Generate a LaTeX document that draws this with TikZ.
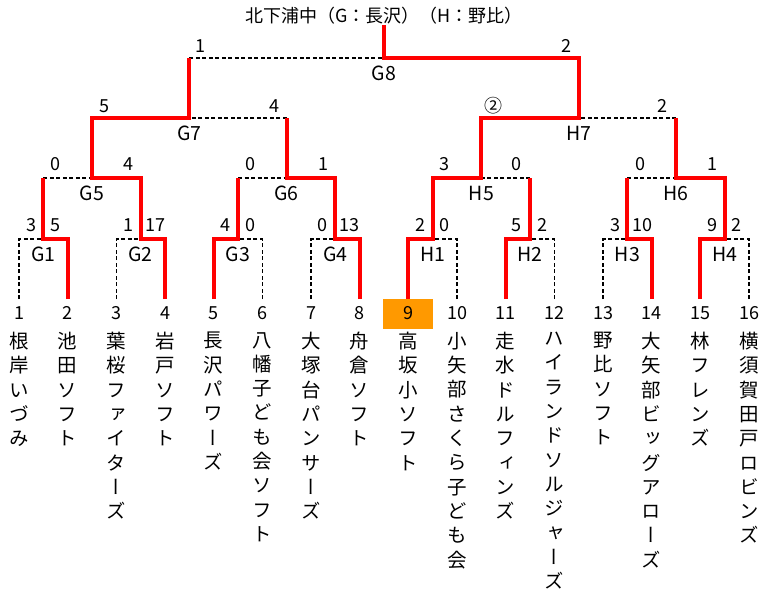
\documentclass[tikz,border=0pt]{standalone}
\usepackage{fontspec}
\setmainfont{Noto Sans CJK JP}
\newfontfamily\tatefont[RawFeature=+vert]{Noto Sans CJK JP}
\definecolor{seedorange}{HTML}{FF9900}
\begin{document}
\begin{tikzpicture}[
  x=48.667pt,y=-1pt,font=\fontsize{18}{20}\selectfont,
  every node/.style={inner sep=0pt},
  match name/.style={font=\fontsize{19.5}{20}\selectfont},
  win/.style={draw=red,line width=4pt},
  lose/.style={draw=black,line width=1.5pt,dash pattern=on 4pt off 2.5pt},
  team/.style={anchor=north,align=center,
    font=\tatefont\fontsize{19.5}{24.3}\selectfont,
    execute at begin node=\strut},
  seedbox/.style={fill=seedorange,minimum width=50pt,minimum height=30pt}
]
  \useasboundingbox (-0.3904,0) rectangle (15.2466,595);

  \node (title) at (7.5,16) {北下浦中（G：長沢）（H：野比）};

  % Teams: number on top, name written downwards.
  \node[seedbox] (box9) at (8,314) {};
  \foreach \i/\name in {
    1/{根\\岸\\い\\づ\\み},
    2/{池\\田\\ソ\\フ\\ト},
    3/{葉\\桜\\フ\\ァ\\イ\\タ\\ー\\ズ},
    4/{岩\\戸\\ソ\\フ\\ト},
    5/{長\\沢\\パ\\ワ\\ー\\ズ},
    6/{八\\幡\\子\\ど\\も\\会\\ソ\\フ\\ト},
    7/{大\\塚\\台\\パ\\ン\\サ\\ー\\ズ},
    8/{舟\\倉\\ソ\\フ\\ト},
    9/{高\\坂\\小\\ソ\\フ\\ト},
    10/{小\\矢\\部\\さ\\く\\ら\\子\\ど\\も\\会},
    11/{走\\水\\ド\\ル\\フ\\ィ\\ン\\ズ},
    12/{ハ\\イ\\ラ\\ン\\ド\\ソ\\ル\\ジ\\ャ\\ー\\ズ},
    13/{野\\比\\ソ\\フ\\ト},
    14/{大\\矢\\部\\ビ\\ッ\\グ\\ア\\ロ\\ー\\ズ},
    15/{林\\フ\\レ\\ン\\ズ},
    16/{横\\須\\賀\\田\\戸\\ロ\\ビ\\ン\\ズ}}
  {
    \coordinate (l\i) at (\i-1,299);
    \node (n\i) at (\i-1,313) {\i};
    \node[team] (t\i) at (\i-1,332) {\name};
  }

  % Match joints and their names.
  \foreach \m/\x/\y/\lab in {
    g1/0.5/239/G1, g2/2.5/239/G2, g3/4.5/239/G3, g4/6.5/239/G4,
    h1/8.5/239/H1, h2/10.5/239/H2, h3/12.5/239/H3, h4/14.5/239/H4,
    g5/1.5/178/G5, g6/5.5/178/G6, h5/9.5/178/H5, h6/13.5/178/H6,
    g7/3.5/118/G7, h7/11.5/118/H7, g8/7.5/58/G8}
  {
    \coordinate (\m) at (\x,\y);
    \node[match name] (\m-name) at (\x,\y+15.5) {\lab};
  }

  % Scores
  \foreach \m/\y/\lx/\ls/\rx/\rs in {
    g1/225/0.25/3/0.74/5, g2/225/2.24/1/2.81/17,
    g3/225/4.25/4/4.75/0, g4/225/6.23/0/6.80/13,
    h1/225/8.24/2/8.75/0, h2/225/10.23/5/10.75/2,
    h3/225/12.25/3/12.82/10, h4/225/14.24/9/14.75/2,
    g5/164/0.76/0/2.24/4, g6/164/4.75/0/6.25/1,
    h5/164/8.75/3/10.23/0, h6/164/12.78/0/14.24/1,
    g7/106/1.75/5/5.24/4, h7/106/9.74/②/13.23/2,
    g8/46/3.72/1/11.26/2}
  {
    \node (\m-l) at (\lx,\y) {\ls};
    \node (\m-r) at (\rx,\y) {\rs};
  }

  % Lost sides
  \foreach \a/\b in {l1/g1,l3/g2,l6/g3,l7/g4,l10/h1,l12/h2,l13/h3,l16/h4}
    \draw[lose] (\a) |- (\b);
  \foreach \a/\b in {g1/g5,g3/g6,h2/h5,h3/h6,g6/g7,h6/h7,g7/g8}
    \draw[lose] (\a |- \b) -- (\b);

  % Winners' paths
  \draw[win] (l2) |- (g1) -- (g1 |- g5);
  \draw[win] (l4) |- (g2) |- (g5) |- (g7) -- (g7 |- g8);
  \draw[win] (l5) |- (g3) -- (g3 |- g6);
  \draw[win] (l8) |- (g4) |- (g6) -- (g6 |- g7);
  \draw[win] (l9) |- (h1) |- (h5) |- (h7) |- (g8) -- (g8 |- title.south);
  \draw[win] (l11) |- (h2) -- (h2 |- h5);
  \draw[win] (l14) |- (h3) -- (h3 |- h6);
  \draw[win] (l15) |- (h4) |- (h6) -- (h6 |- h7);
\end{tikzpicture}
\end{document}
